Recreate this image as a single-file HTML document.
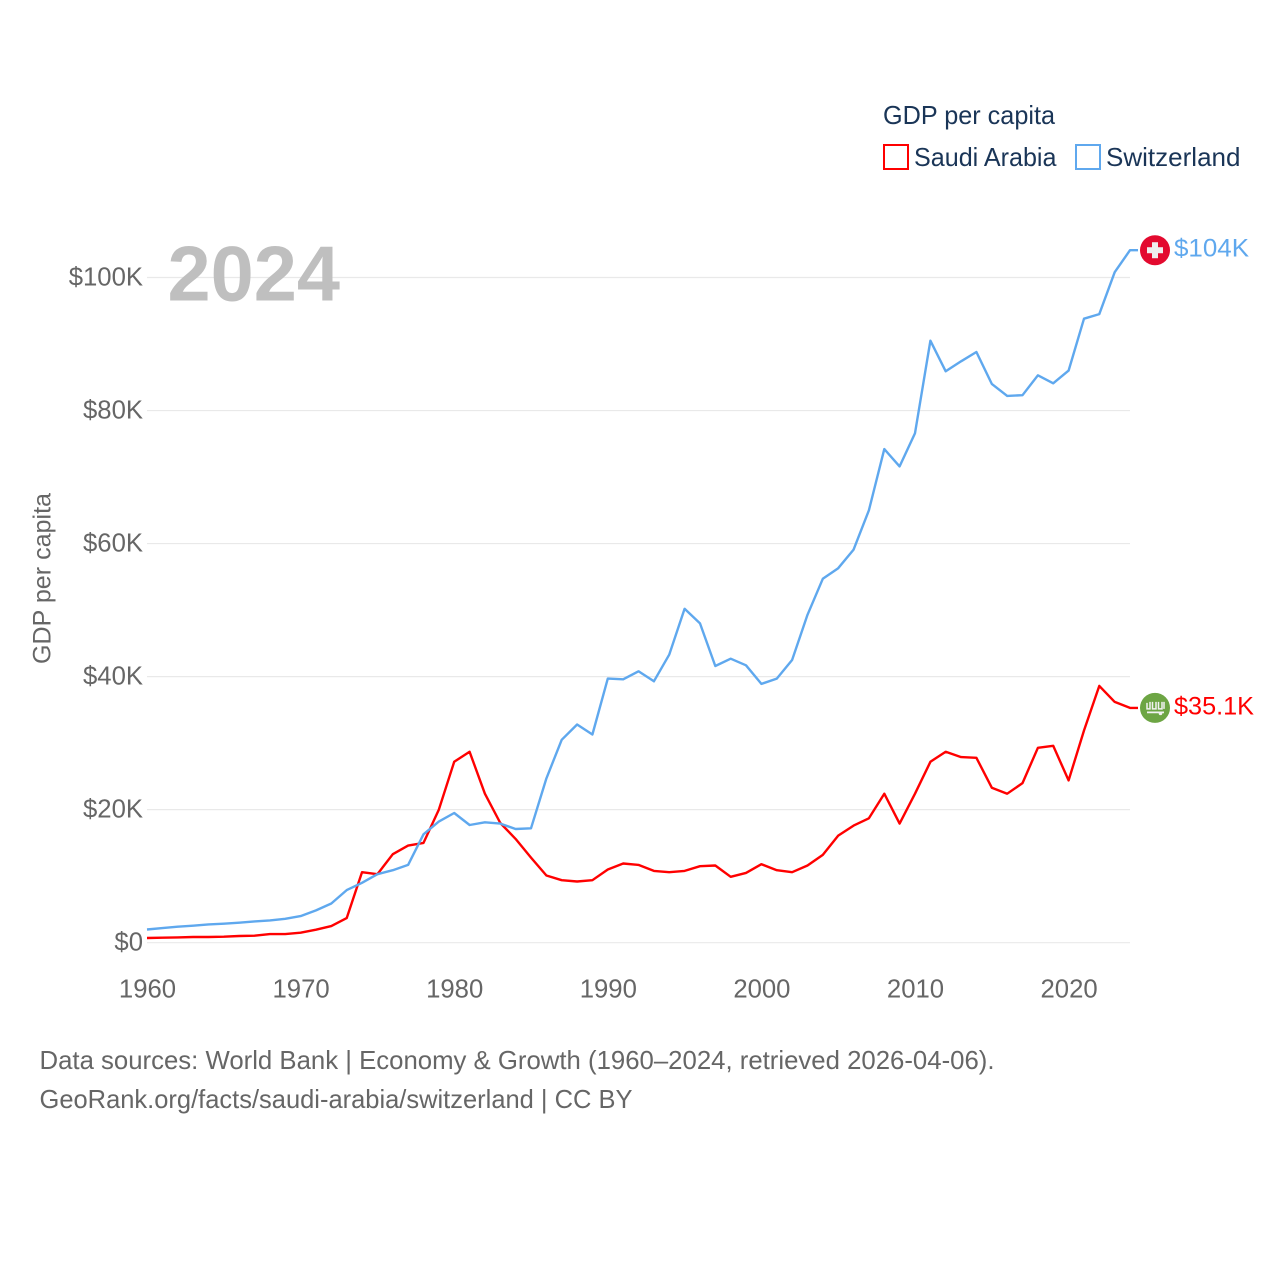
<!DOCTYPE html>
<html lang="en">
<head>
<meta charset="utf-8">
<title>GDP per capita: Saudi Arabia vs Switzerland</title>
<style>
html,body{margin:0;padding:0;background:#fff;}
svg{display:block;}
text{font-family:"Liberation Sans",sans-serif;}
</style>
</head>
<body>
<svg id="chart" xmlns="http://www.w3.org/2000/svg" width="1280" height="1280" viewBox="0 0 1280 1280">
  <rect x="0" y="0" width="1280" height="1280" fill="#ffffff"/>
  <g id="grid"></g>
  <g id="yticks"></g>
  <g id="xticks"></g>
  <text x="167.5" y="300.5" font-size="78" font-weight="700" fill="#bfbfbf" textLength="172.5" lengthAdjust="spacingAndGlyphs">2024</text>
  <text transform="translate(50.5,578.5) rotate(-90)" text-anchor="middle" font-size="25" fill="#666666" textLength="171" lengthAdjust="spacingAndGlyphs">GDP per capita</text>
  <g id="series"></g>

  <g id="flag-ch">
    <circle cx="0" cy="0" r="15" fill="#e30a2f"/>
    <rect x="-8" y="-3" width="16" height="6" fill="#eeeeee"/>
    <rect x="-3" y="-8" width="6" height="16" fill="#eeeeee"/>
  </g>
  <g id="flag-sa">
    <circle cx="0" cy="0" r="15" fill="#6da544"/>
    <g stroke="#f2f2f2" stroke-width="1.5" fill="none">
      <path d="M-8 -5V1H-5V-6M-2.5 -6V1H1V-6M3.5 -6V1H7V-6M9 -6V1"/>
    </g>
    <path d="M-8 4.5H9" stroke="#f2f2f2" stroke-width="1.8"/>
    <circle cx="5.5" cy="5.5" r="1.8" fill="#f2f2f2"/>
  </g>
  <text id="label-ch" font-size="25" fill="#5fa8ee" textLength="75" lengthAdjust="spacingAndGlyphs"></text>
  <text id="label-sa" font-size="25" fill="#ff0000" textLength="80" lengthAdjust="spacingAndGlyphs"></text>

  <g>
    <text x="883" y="124" font-size="26" fill="#1a3557" textLength="172" lengthAdjust="spacingAndGlyphs">GDP per capita</text>
    <g>
      <rect x="884" y="145" width="24" height="24" fill="none" stroke="#ff0000" stroke-width="2"/>
      <text x="914" y="166" font-size="26" fill="#1a3557" textLength="142.5" lengthAdjust="spacingAndGlyphs">Saudi Arabia</text>
    </g>
    <g>
      <rect x="1076" y="145" width="24" height="24" fill="none" stroke="#5fa8ee" stroke-width="2"/>
      <text x="1106" y="166" font-size="26" fill="#1a3557" textLength="134.5" lengthAdjust="spacingAndGlyphs">Switzerland</text>
    </g>
  </g>

  <text x="39.5" y="1069" font-size="26" fill="#666666" textLength="955" lengthAdjust="spacingAndGlyphs">Data sources: World Bank | Economy &amp; Growth (1960–2024, retrieved 2026-04-06).</text>
  <text x="39.5" y="1108" font-size="26" fill="#666666" textLength="593" lengthAdjust="spacingAndGlyphs">GeoRank.org/facts/saudi-arabia/switzerland | CC BY</text>
</svg>
<script>
const startYear = 1960;
const saudiArabia = [0.7,0.75,0.8,0.85,0.85,0.9,1.0,1.05,1.3,1.3,1.5,1.95,2.5,3.7,10.6,10.3,13.3,14.6,15.0,20.0,27.2,28.7,22.4,18.0,15.6,12.8,10.1,9.4,9.2,9.4,11.0,11.9,11.7,10.8,10.6,10.8,11.5,11.6,9.9,10.5,11.8,10.9,10.6,11.6,13.2,16.1,17.6,18.7,22.4,17.9,22.4,27.2,28.7,27.9,27.8,23.3,22.4,24.0,29.3,29.6,24.4,31.9,38.6,36.2,35.3];
const switzerland = [1.98,2.2,2.4,2.55,2.75,2.85,3.0,3.2,3.35,3.6,4.0,4.85,5.9,7.9,9.0,10.3,10.9,11.7,16.3,18.2,19.5,17.7,18.1,17.9,17.1,17.2,24.7,30.5,32.8,31.3,39.7,39.6,40.8,39.3,43.3,50.2,48.0,41.6,42.7,41.7,38.9,39.7,42.5,49.3,54.7,56.3,59.1,65.0,74.2,71.6,76.6,90.5,85.9,87.4,88.8,84.0,82.2,82.3,85.3,84.1,86.0,93.8,94.5,100.8,104.1];
const yTickValues = [0,20,40,60,80,100];
const yTickLabels = ["$0","$20K","$40K","$60K","$80K","$100K"];
const xTickValues = [1960,1970,1980,1990,2000,2010,2020];
const xTickLabels = ["1960","1970","1980","1990","2000","2010","2020"];
const endLabelSaudi = "$35.1K";
const endLabelSwiss = "$104K";

const NS = "http://www.w3.org/2000/svg";
const x = function (year) { return 147 + (year - 1960) * 15.36; };
const y = function (value) { return 942.7 - value * 6.652; };

const gridGroup = document.getElementById("grid");
const yGroup = document.getElementById("yticks");
const xGroup = document.getElementById("xticks");
const seriesGroup = document.getElementById("series");

yTickValues.forEach(function (v, i) {
  const line = document.createElementNS(NS, "line");
  line.setAttribute("x1", 147);
  line.setAttribute("x2", 1130);
  line.setAttribute("y1", y(v));
  line.setAttribute("y2", y(v));
  line.setAttribute("stroke", "#e9e9e9");
  line.setAttribute("stroke-width", "1.2");
  
  
  gridGroup.appendChild(line);

  const label = document.createElementNS(NS, "text");
  label.setAttribute("x", 143);
  label.setAttribute("y", y(v) + 8);
  label.setAttribute("text-anchor", "end");
  label.setAttribute("font-size", "25.7");
  label.setAttribute("fill", "#666666");
  
  
  label.textContent = yTickLabels[i];
  yGroup.appendChild(label);
});

xTickValues.forEach(function (v, i) {
  const label = document.createElementNS(NS, "text");
  label.setAttribute("x", x(v) + 0.5);
  label.setAttribute("y", 997.5);
  label.setAttribute("text-anchor", "middle");
  label.setAttribute("font-size", "25.7");
  label.setAttribute("fill", "#666666");
  
  
  label.textContent = xTickLabels[i];
  xGroup.appendChild(label);
});

function drawSeries(values, color, name) {
  const pts = values.map(function (v, i) { return x(startYear + i).toFixed(1) + "," + y(v).toFixed(1); });
  const last = values[values.length - 1];
  pts.push((x(startYear + values.length - 1) + 8).toFixed(1) + "," + y(last).toFixed(1));
  const line = document.createElementNS(NS, "polyline");
  line.setAttribute("points", pts.join(" "));
  line.setAttribute("fill", "none");
  line.setAttribute("stroke", color);
  line.setAttribute("stroke-width", "2.4");
  line.setAttribute("stroke-linejoin", "round");
  
  
  seriesGroup.appendChild(line);
}
drawSeries(saudiArabia, "#ff0000", "saudi-arabia-line");
drawSeries(switzerland, "#5fa8ee", "switzerland-line");

function placeEnd(flagId, labelId, values, text) {
  const last = values[values.length - 1];
  const yy = y(last);
  document.getElementById(flagId).setAttribute("transform", "translate(1155," + yy + ")");
  const label = document.getElementById(labelId);
  label.setAttribute("x", 1174);
  label.setAttribute("y", yy + 6.5);
  label.textContent = text;
}
placeEnd("flag-ch", "label-ch", switzerland, endLabelSwiss);
placeEnd("flag-sa", "label-sa", saudiArabia, endLabelSaudi);
</script>
</body>
</html>
